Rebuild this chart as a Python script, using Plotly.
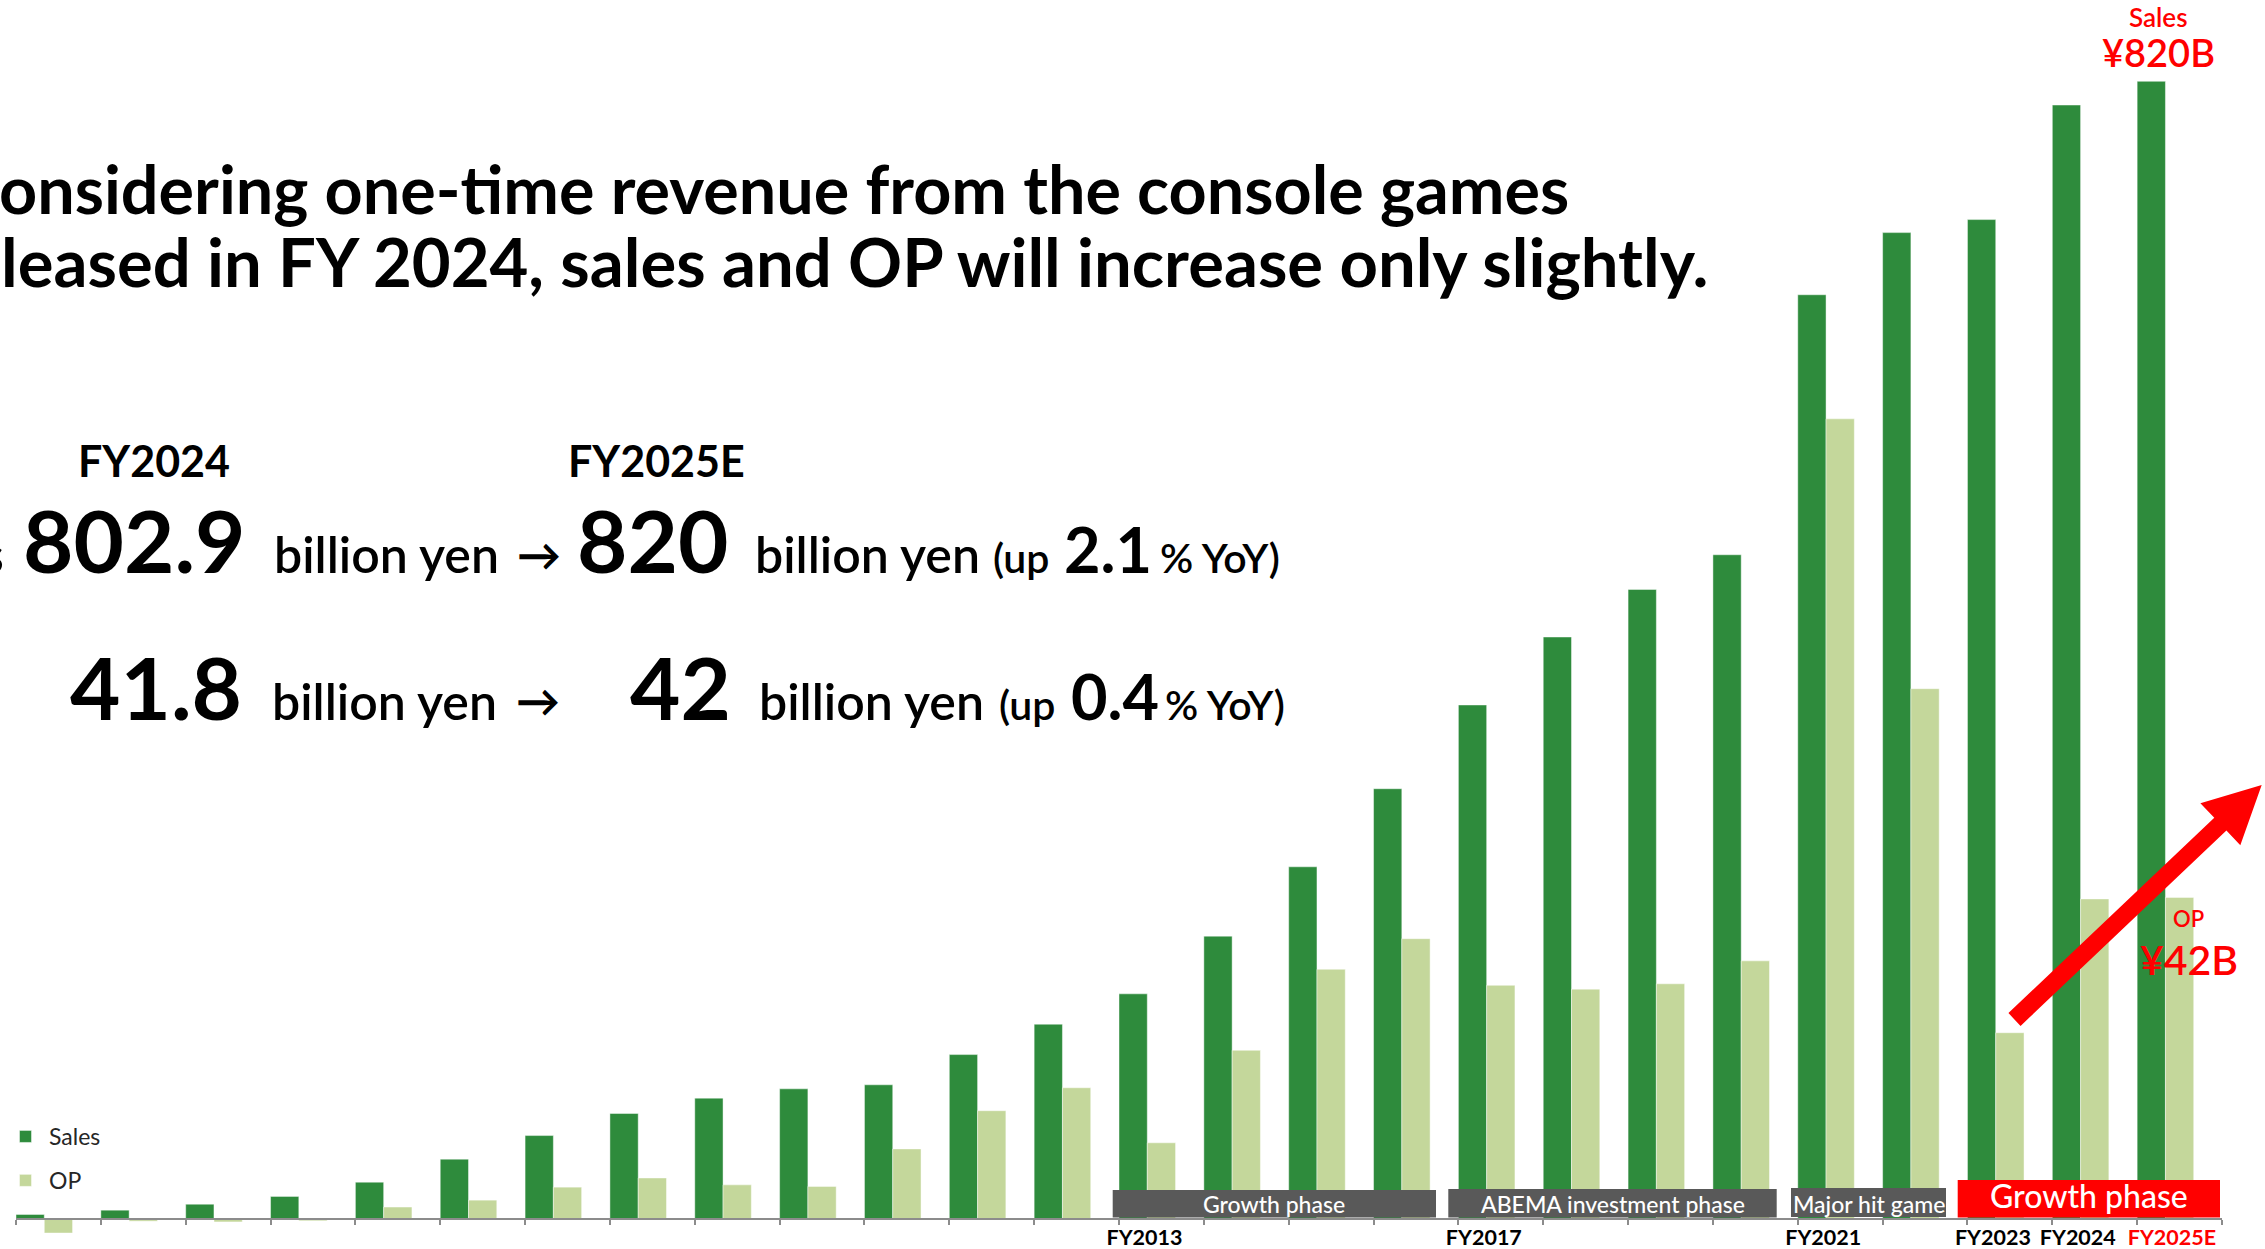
import numpy as np
import plotly.graph_objects as go

# ---- data (billion yen) ----
fiscal_years = ["FY2000", "FY2001", "FY2002", "FY2003", "FY2004", "FY2005", "FY2006",
                "FY2007", "FY2008", "FY2009", "FY2010", "FY2011", "FY2012", "FY2013",
                "FY2014", "FY2015", "FY2016", "FY2017", "FY2018", "FY2019", "FY2020",
                "FY2021", "FY2022", "FY2023", "FY2024", "FY2025E"]
sales = [2.9, 6.0, 10.3, 15.9, 26.2, 42.8, 59.8, 75.7, 86.8, 93.5, 96.4, 118.2, 140.1,
         162.0, 203.6, 253.6, 309.9, 370.3, 419.3, 453.6, 478.6, 666.1, 710.9, 720.3,
         802.9, 820.0]
op = [-1.9, -0.35, -0.45, -0.3, 1.5, 2.4, 4.1, 5.3, 4.4, 4.2, 9.1, 14.1, 17.1, 9.9,
      22.0, 32.6, 36.6, 30.5, 30.0, 30.7, 33.7, 104.6, 69.3, 24.3, 41.8, 42.0]
labeled_years = ["FY2013", "FY2017", "FY2021", "FY2023", "FY2024", "FY2025E"]
phases = ["Growth phase", "ABEMA investment phase", "Major hit game", "Growth phase"]

# ---- canvas / scale settings ----
W, H = 2265, 1249
FONT = "Lato"
DARK_GREEN = "#2E8B3C"
LIGHT_GREEN = "#C4D79B"
RED = "#FF0000"
GREY_BOX = "#595959"
AXIS_GREY = "#8C8C8C"

x_left_px, x_right_px = 16, 2222       # category span on the page
base_px = 1218.5                       # zero line on the page
sales_px_per_unit = 1.3868
op_px_per_unit = 7.645


def px(x):
    return x / W


def py(y):
    return 1 - y / H


n = len(fiscal_years)
cat = np.arange(n)

fig = go.Figure()
fig.add_bar(x=cat, y=sales, offset=0, width=1 / 3, name="Sales",
            marker=dict(color=DARK_GREEN, line=dict(color="rgba(255,255,255,0.45)", width=1)),
            legendgroup="s", yaxis="y")
fig.add_bar(x=cat, y=op, offset=1 / 3, width=1 / 3, name="OP",
            marker=dict(color=LIGHT_GREEN, line=dict(color="rgba(255,255,255,0.45)", width=1)),
            legendgroup="o", yaxis="y2")

# category tick labels sit under the bar pairs
label_nudge = {"FY2025E": 0.11}
tickvals = [fiscal_years.index(lbl) + 0.3 + label_nudge.get(lbl, 0) for lbl in labeled_years]
ticktext = [lbl if not lbl.endswith("E") else f'<span style="color:{RED}">{lbl}</span>'
            for lbl in labeled_years]

sales_range = [-(H - base_px) / sales_px_per_unit, base_px / sales_px_per_unit]
op_range = [-(H - base_px) / op_px_per_unit, base_px / op_px_per_unit]

fig.update_layout(
    width=W, height=H,
    margin=dict(l=0, r=0, t=0, b=0, autoexpand=False),
    paper_bgcolor="white", plot_bgcolor="white",
    barmode="overlay",
    showlegend=True,
    legend=dict(x=px(2), y=py(1115), xanchor="left", yanchor="top",
                font=dict(family=FONT, size=23, color="#262626"),
                bgcolor="rgba(0,0,0,0)", tracegroupgap=11, itemwidth=37,
                traceorder="grouped"),
    xaxis=dict(range=[0, n], domain=[px(x_left_px), px(x_right_px)],
               anchor="free", position=py(base_px), automargin=False,
               showline=True, linecolor=AXIS_GREY, linewidth=2,
               showgrid=False, zeroline=False,
               tickmode="array", tickvals=tickvals, ticktext=ticktext, ticks="",
               ticklabelstandoff=0,
               tickfont=dict(family=FONT, size=21.5, color="black", weight=700),
               minor=dict(tickmode="array", tickvals=list(range(n + 1)), ticks="outside",
                          ticklen=5, tickwidth=1.5, tickcolor=AXIS_GREY, showgrid=False)),
    yaxis=dict(range=sales_range, visible=False, domain=[0, 1], automargin=False),
    yaxis2=dict(range=op_range, visible=False, overlaying="y", side="right",
                automargin=False),
)

annotations = []


def text(s, cx, baseline, size, weight=700, color="black", anchor="center"):
    y_mid = baseline - 0.387 * size
    annotations.append(dict(text=s, x=px(cx), y=py(y_mid), xref="paper", yref="paper",
                            xanchor=anchor, yanchor="middle", showarrow=False,
                            font=dict(family=FONT, size=size, weight=weight, color=color)))


# headline
text("onsidering one-time revenue from the console games", -3, 213.3, 66.5, anchor="left")
text("leased in FY 2024, sales and OP will increase only slightly.", -1, 286.7, 67, anchor="left")

# period headers
text(fiscal_years[-2], 153.5, 476.7, 43)
text(fiscal_years[-1], 656.7, 476.7, 43)

# sales row
text("s", 6, 573.3, 50, weight=600, anchor="right")
text(f"{sales[-2]:.1f}", 134.2, 573.3, 87)
text("billion yen", 386.3, 573.3, 50, weight=600)
text("→", 538.7, 571.5, 44)
text(f"{sales[-1]:.0f}", 652.5, 573.3, 87)
text("billion yen", 867.5, 573.3, 50, weight=600)
text("(up", 1021, 573.3, 41, weight=600)
text("2.1", 1108, 573.3, 63)
text("% YoY)", 1220, 573.3, 41, weight=600)

# operating profit row
text(f"{op[-2]:.1f}", 155.8, 720, 87)
text("billion yen", 384.2, 720, 50, weight=600)
text("→", 538, 717.5, 44)
text(f"{op[-1]:.0f}", 680.8, 720, 87)
text("billion yen", 871.2, 720, 50, weight=600)
text("(up", 1026.5, 720, 41, weight=600)
text("0.4", 1115, 720, 63)
text("% YoY)", 1225, 720, 41, weight=600)

# forecast call-outs
text("Sales", 2158.5, 26.7, 26, weight=600, color=RED)
text(f"¥{sales[-1]:.0f}B", 2158, 66.7, 38, weight=600, color=RED)
text("OP", 2188, 926.7, 22, weight=600, color=RED)
text(f"¥{op[-1]:.0f}B", 2188.5, 975, 41, weight=600, color=RED)

# phase bands along the axis
shapes = []
bands = [  # (x0, x1, y0, y1, fill, font size, text baseline)
    (1112.7, 1436.0, 1190.0, 1217.5, GREY_BOX, 23, 1213.3),
    (1448.3, 1776.7, 1189.0, 1217.5, GREY_BOX, 23, 1213.3),
    (1791.0, 1946.0, 1188.0, 1217.0, GREY_BOX, 23, 1213.0),
    (1957.7, 2220.0, 1180.0, 1217.5, RED, 32, 1208.3),
]
for label, (x0, x1, y0, y1, fill, fs, bl) in zip(phases, bands):
    shapes.append(dict(type="rect", xref="paper", yref="paper", x0=px(x0), x1=px(x1),
                       y0=py(y1), y1=py(y0), fillcolor=fill, line=dict(width=0), layer="above"))
    text(label, (x0 + x1) / 2, bl, fs, weight=500, color="white")

# rising red arrow
tail = np.array([2014.5, 1019.5])
tip = np.array([2261.7, 785.0])
shaft_half, head_len, head_half = 8.8, 57.0, 29.0
u = (tip - tail) / np.linalg.norm(tip - tail)
perp = np.array([u[1], -u[0]])
neck = tip - u * head_len
pts = [tail + perp * shaft_half, neck + perp * shaft_half, neck + perp * head_half, tip,
       neck - perp * head_half, neck - perp * shaft_half, tail - perp * shaft_half]
path = "M " + " L ".join(f"{px(p[0]):.5f},{py(p[1]):.5f}" for p in pts) + " Z"
shapes.append(dict(type="path", xref="paper", yref="paper", path=path,
                   fillcolor=RED, line=dict(width=0), layer="above"))

fig.update_layout(annotations=annotations, shapes=shapes)
fig.write_html("out.html", config={"displayModeBar": False})
